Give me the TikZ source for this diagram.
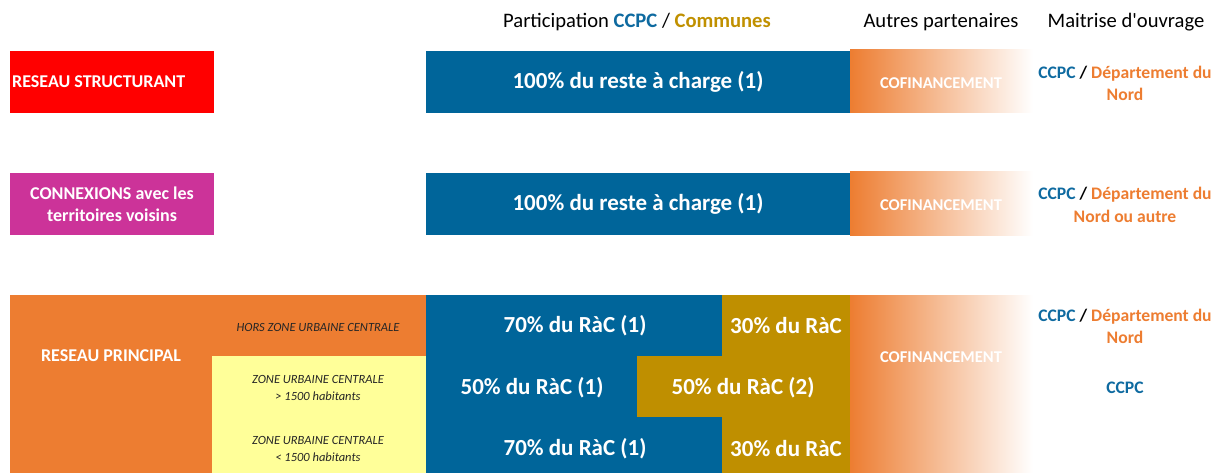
\documentclass[tikz,border=0pt]{standalone}
\usepackage{fontspec}
\setmainfont{Carlito}
\newfontfamily\qfont{Carlito}[Ligatures=TeXOff]
\definecolor{myblue}{HTML}{00659A}
\definecolor{mygold}{HTML}{BF8F00}
\definecolor{myorange}{HTML}{ED7D31}
\definecolor{myred}{HTML}{FF0000}
\definecolor{mymag}{HTML}{CC3399}
\definecolor{myyellow}{HTML}{FFFF99}
\definecolor{hdblue}{HTML}{0E6AA0}
\definecolor{hdgold}{HTML}{C09000}
\tikzset{
  blk/.style={draw=none, inner sep=0pt, outer sep=0pt, anchor=north west},
  big/.style={text=white, font=\bfseries\fontsize{23}{26}\selectfont, inner sep=0pt},
  lab/.style={text=white, font=\bfseries\fontsize{18}{22}\selectfont, inner sep=0pt, align=center},
  cof/.style={text=white, font=\bfseries\fontsize{16.5}{18}\selectfont, inner sep=0pt},
  zone/.style={text=black!85, font=\itshape\fontsize{12.5}{17}\selectfont, inner sep=0pt, align=center},
  hd/.style={text=black, font=\fontsize{20.6}{22}\selectfont, inner sep=0pt},
  mo/.style={font=\bfseries\fontsize{17.6}{22.5}\selectfont, inner sep=0pt, align=center},
  cofshade/.style={blk, left color=myorange, right color=white}
}
\begin{document}
\begin{tikzpicture}[x=1pt,y=-1pt]
\useasboundingbox (0,0) rectangle (1222,473);
% headers
\node[hd] (h1) at (637,22) {Participation {\color{hdblue}\bfseries CCPC} / {\color{hdgold}\bfseries Communes}};
\node[hd] (h2) at (941,22) {Autres partenaires};
\node[hd] (h3) at (1126,22) {{\qfont Maitrise d'ouvrage}};
% row 1
\node[blk, fill=myred, minimum width=204pt, minimum height=62pt] (rs) at (10,51) {};
\node[lab, anchor=west] (rsT) at (12,82) {RESEAU STRUCTURANT};
\node[blk, fill=myblue, minimum width=424pt, minimum height=62pt] (b1) at (426,51) {};
\node[big] (b1T) at (b1.center) {100\% du reste à charge (1)};
\node[cofshade, minimum width=183pt, minimum height=63pt] (c1) at (850,50) {};
\node[cof] (c1T) at (941,83) {COFINANCEMENT};
\node[mo] (m1) at (1125,83.5) {{\color{hdblue}CCPC} / {\color{myorange}Département du}\\{\color{myorange}Nord}};
% row 2
\node[blk, fill=mymag, minimum width=204pt, minimum height=62pt] (cx) at (10,173) {};
\node[lab] (cxT) at (cx.center) {CONNEXIONS avec les\\territoires voisins};
\node[blk, fill=myblue, minimum width=424pt, minimum height=62pt] (b2) at (426,173) {};
\node[big] (b2T) at (b2.center) {100\% du reste à charge (1)};
\node[cofshade, minimum width=183pt, minimum height=63pt] (c2) at (850,172) {};
\node[cof] (c2T) at (941,205) {COFINANCEMENT};
\node[mo] (m2) at (1125,205) {{\color{hdblue}CCPC} / {\color{myorange}Département du}\\{\color{myorange}Nord ou autre}};
% row 3
\node[blk, fill=myorange, minimum width=416pt, minimum height=178pt] (rp) at (10,295) {};
\node[lab] (rpT) at (111,356) {RESEAU PRINCIPAL};
\node[blk, fill=myyellow, minimum width=214pt, minimum height=117pt] (yz) at (212,356) {};
\node[zone] (z1) at (318,327) {HORS ZONE URBAINE CENTRALE};
\node[zone] (z2) at (318,387.5) {ZONE URBAINE CENTRALE\\> 1500 habitants};
\node[zone] (z3) at (318,448.5) {ZONE URBAINE CENTRALE\\< 1500 habitants};
% blue / gold blocks
\node[blk, fill=myblue, minimum width=296.5pt, minimum height=61.5pt] (p1) at (426,295) {};
\node[blk, fill=mygold, minimum width=128pt, minimum height=61.5pt] (g1) at (722,295) {};
\node[blk, fill=myblue, minimum width=212.5pt, minimum height=61.5pt] (p2) at (426,356) {};
\node[blk, fill=mygold, minimum width=213pt, minimum height=61.5pt] (g2) at (637,356) {};
\node[blk, fill=myblue, minimum width=296.5pt, minimum height=56pt] (p3) at (426,417) {};
\node[blk, fill=mygold, minimum width=128pt, minimum height=56pt] (g3) at (722,417) {};
\node[big] (p1T) at (575,326) {70\% du RàC (1)};
\node[big] (g1T) at (786,326) {30\% du RàC};
\node[big] (p2T) at (532,388) {50\% du RàC (1)};
\node[big] (g2T) at (743,388) {50\% du RàC (2)};
\node[big] (p3T) at (575,449) {70\% du RàC (1)};
\node[big] (g3T) at (786,449) {30\% du RàC};
\node[cofshade, minimum width=183pt, minimum height=178pt] (c3) at (850,295) {};
\node[cof] (c3T) at (941,357) {COFINANCEMENT};
\node[mo] (m3) at (1125,326.5) {{\color{hdblue}CCPC} / {\color{myorange}Département du}\\{\color{myorange}Nord}};
\node[mo, text=hdblue] (m4) at (1125,388) {CCPC};
\end{tikzpicture}
\end{document}
